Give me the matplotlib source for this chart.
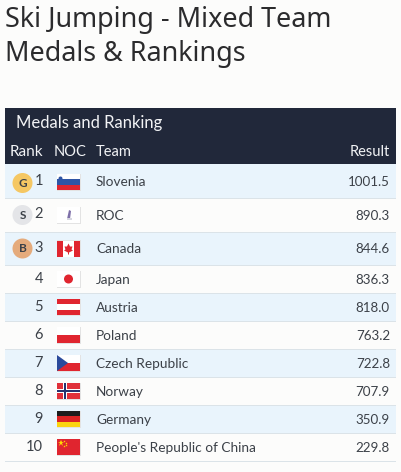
import matplotlib
matplotlib.use("Agg")
import matplotlib.pyplot as plt
from matplotlib.patches import Rectangle, Circle, Polygon

plt.rcParams['font.family'] = ['Lato', 'DejaVu Sans']

title_lines = ["Ski Jumping - Mixed Team", "Medals & Rankings"]
table_title = "Medals and Ranking"
columns = ["Rank", "NOC", "Team", "Result"]
ranks = [1, 2, 3, 4, 5, 6, 7, 8, 9, 10]
teams = ["Slovenia", "ROC", "Canada", "Japan", "Austria", "Poland",
         "Czech Republic", "Norway", "Germany", "People's Republic of China"]
results = [1001.5, 890.3, 844.6, 836.3, 818.0, 763.2, 722.8, 707.9, 350.9, 229.8]
flags = ["si", "roc", "ca", "jp", "at", "pl", "cz", "no", "de", "cn"]
medals = ["G", "S", "B"]
medal_colors = ["#f5c763", "#e4e5e8", "#e5ab7c"]

W, H = 401, 472
fig = plt.figure(figsize=(W/100, H/100), dpi=100, facecolor="#fcfcfb")
ax = fig.add_axes([0, 0, 1, 1])
ax.set_xlim(0, W); ax.set_ylim(H, 0); ax.axis("off")

edges = [164, 198, 232, 265, 293, 321, 349, 377, 405, 433, 461]
L, R = 5, 396
DARK = "#21283a"; TXT = "#3c4148"; BLUE = "#e9f4fc"; LINE = "#dbe3e8"
RED = "#e0252f"

for i, line in enumerate(title_lines):
    ax.text(5, 19.5 + i*34, line, fontsize=19.4, color="#2b2b2d", va="center", ha="left",
            family=['Noto Sans', 'DejaVu Sans'])

ax.add_patch(Rectangle((L, 108), R-L, 56, color=DARK, lw=0))
ax.text(16, 123, table_title, fontsize=12, color="#f2f3f5", va="center", ha="left")
ax.text(10, 151.5, columns[0], fontsize=11, color="#f2f3f5", va="center", ha="left")
ax.text(54, 151.5, columns[1], fontsize=10.5, color="#f2f3f5", va="center", ha="left")
ax.text(96, 151.5, columns[2], fontsize=10.5, color="#f2f3f5", va="center", ha="left")
ax.text(390, 151.5, columns[3], fontsize=10.5, color="#f2f3f5", va="center", ha="right")


def band(x, y, w, h, c, z=3):
    ax.add_patch(Rectangle((x, y), w, h, color=c, lw=0, zorder=z))


def flag(code, cy):
    x, y, w, h = 57, cy-8, 23, 16
    band(x-0.5, y-0.5, w+1, h+1, "#e3e3e3", 2)
    band(x, y, w, h, "white")
    if code == "si":
        band(x, y+h/3, w, h/3, "#2f55a5"); band(x, y+2*h/3, w, h/3, "#e0252f")
        ax.add_patch(Circle((x+3.5, y+4.5), 2, color="#2f55a5", lw=0, zorder=4))
    elif code == "roc":
        ax.add_patch(Polygon([(x+10, y+12), (x+12, y+3), (x+14, y+4), (x+13, y+12)],
                             color="#7d6fa8", lw=0, zorder=4))
        band(x+9.5, y+11, 5, 2, "#d6d6e0", 4)
    elif code == "ca":
        band(x, y, 6, h, RED); band(x+w-6, y, 6, h, RED)
        ax.add_patch(Polygon([(x+11.5, y+3), (x+13, y+6), (x+15.5, y+6), (x+14.5, y+9), (x+16, y+10),
                              (x+12, y+12), (x+12, y+14), (x+11, y+14), (x+11, y+12),
                              (x+7, y+10), (x+8.5, y+9), (x+7.5, y+6), (x+10, y+6)],
                             color=RED, lw=0, zorder=4))
    elif code == "jp":
        ax.add_patch(Circle((x+w/2, y+h/2), 4.5, color=RED, lw=0, zorder=4))
    elif code == "at":
        band(x, y, w, h/3, RED); band(x, y+2*h/3, w, h/3, RED)
    elif code == "pl":
        band(x, y+h/2, w, h/2, RED)
    elif code == "cz":
        band(x, y+h/2, w, h/2, RED)
        ax.add_patch(Polygon([(x, y), (x+11, y+h/2), (x, y+h)], color="#2b4a9b", lw=0, zorder=4))
    elif code == "no":
        band(x, y, w, h, "#e0303a")
        band(x+6, y, 4, h, "white", 4); band(x, y+6, w, 4, "white", 4)
        band(x+7, y, 2, h, "#26336f", 5); band(x, y+7, w, 2, "#26336f", 5)
    elif code == "de":
        band(x, y, w, h/3, "#1c1c1c"); band(x, y+h/3, w, h/3, "#db2323"); band(x, y+2*h/3, w, h/3, "#fbd40f")
    elif code == "cn":
        band(x, y, w, h, RED)
        ax.plot([x+3.5], [y+4], marker="*", ms=5, color="#ffde00", mew=0, zorder=4)
        for dx, dy in [(7, 1.8), (8.5, 3.5), (8.5, 5.5), (7, 7)]:
            ax.plot([x+dx], [y+dy], marker="*", ms=1.8, color="#ffde00", mew=0, zorder=4)


medal_shift = [2, 0, 0]
for i, (rank, team, res, fl) in enumerate(zip(ranks, teams, results, flags)):
    top, bot = edges[i], edges[i+1]
    cy = (top+bot)/2
    if i % 2 == 0:
        band(L, top, R-L, bot-top, BLUE, 1)
    band(L, bot-0.5, R-L, 1, LINE, 1.5)
    if i < 3:
        rank_x, rank_y = 43, cy-1 + (1 if i == 0 else 0)
        my = cy + medal_shift[i]
        ax.add_patch(Circle((22.5, my), 10, color=medal_colors[i], lw=0, zorder=3))
        ax.text(22.5, my+0.5, medals[i], fontsize=8.5, color=TXT, fontweight="bold",
                va="center", ha="center", zorder=4)
    else:
        rank_x, rank_y = 43, cy
    ax.text(rank_x, rank_y, str(rank), fontsize=10.5, color=TXT, va="center", ha="right", zorder=4)
    flag(fl, cy + (1 if i == 0 else 0))
    ax.text(96, cy+0.5 + (1 if i == 0 else 0), team, fontsize=9.8, color=TXT, va="center", ha="left", zorder=4)
    ax.text(390, cy+0.5 + (1 if i == 0 else 0), f"{res:.1f}", fontsize=9.6, color=TXT, va="center", ha="right", zorder=4)

fig.savefig("out.png", dpi=100, facecolor=fig.get_facecolor())
